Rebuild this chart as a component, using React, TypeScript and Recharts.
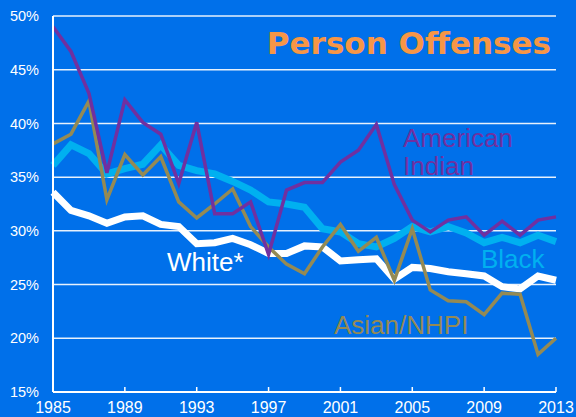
import { LineChart, Line, XAxis, YAxis, CartesianGrid } from "recharts";

const years = [
  1985, 1986, 1987, 1988, 1989, 1990, 1991, 1992, 1993, 1994, 1995, 1996, 1997, 1998, 1999,
  2000, 2001, 2002, 2003, 2004, 2005, 2006, 2007, 2008, 2009, 2010, 2011, 2012, 2013,
];

const white = [
  33.6, 31.9, 31.4, 30.7, 31.3, 31.4, 30.6, 30.4, 28.8, 28.9, 29.3, 28.7, 27.9, 27.9, 28.6,
  28.5, 27.2, 27.3, 27.4, 25.5, 26.6, 26.5, 26.2, 26.0, 25.8, 24.8, 24.6, 25.8, 25.4,
];
const black = [
  36.1, 38.0, 37.2, 35.3, 35.8, 36.2, 38.0, 36.1, 35.6, 35.3, 34.6, 33.8, 32.7, 32.5, 32.2,
  30.2, 29.9, 28.8, 28.5, 29.3, 30.4, 29.9, 30.4, 29.8, 28.9, 29.4, 28.9, 29.6, 29.0,
];
const americanIndian = [
  49.0, 46.7, 42.8, 35.4, 42.2, 40.1, 39.0, 34.4, 40.1, 31.6, 31.6, 32.7, 27.8, 33.8, 34.5,
  34.5, 36.4, 37.5, 39.9, 34.3, 31.0, 29.9, 31.0, 31.3, 29.6, 30.9, 29.6, 31.0, 31.3,
];
const asianNhpi = [
  38.1, 39.0, 42.1, 32.9, 37.1, 35.2, 36.9, 32.7, 31.2, 32.5, 33.9, 30.4, 28.5, 26.9, 26.0,
  28.5, 30.6, 28.1, 29.4, 25.4, 30.2, 24.5, 23.5, 23.4, 22.2, 24.2, 24.1, 18.5, 20.0,
];

const xTicks = [1985, 1989, 1993, 1997, 2001, 2005, 2009, 2013];
const yTicks = [15, 20, 25, 30, 35, 40, 45, 50];

const data = years.map((year, i) => ({
  year,
  white: white[i],
  black: black[i],
  americanIndian: americanIndian[i],
  asianNhpi: asianNhpi[i],
}));

const BG = "#0070EA";
const label = { fontFamily: "'Liberation Sans', Arial, sans-serif", fontSize: 26 };

export default function App() {
  return (
    <div style={{ position: "absolute", left: 0, top: 0, width: 576, height: 417, background: BG }}>
      <LineChart
        width={576}
        height={417}
        data={data}
        margin={{ top: 16, right: 20, left: 0, bottom: 0 }}
        style={{ fontFamily: "'Liberation Sans', Arial, sans-serif" }}
      >
        <CartesianGrid vertical={false} stroke="#FFFFFF" strokeOpacity={0.9} strokeWidth={1.5} />
        <XAxis
          dataKey="year"
          type="number"
          domain={[1985, 2013]}
          ticks={xTicks}
          height={25}
          axisLine={{ stroke: "#FFFFFF", strokeWidth: 2 }}
          tickLine={{ stroke: "#FFFFFF", strokeWidth: 1.5 }}
          tickSize={-5}
          tickMargin={15}
          tick={{ fill: "#FFFFFF", fontSize: 16 }}
          interval={0}
        />
        <YAxis
          domain={[15, 50]}
          ticks={yTicks}
          width={53}
          axisLine={{ stroke: "#FFFFFF", strokeWidth: 2 }}
          tickLine={false}
          tickMargin={8}
          tick={{ fill: "#FFFFFF", fontSize: 14.5 }}
          tickFormatter={(v: number) => `${v}%`}
          interval={0}
        />
        <Line dataKey="white" type="linear" stroke="#FFFFFF" strokeWidth={7} dot={false} isAnimationActive={false} />
        <Line dataKey="black" type="linear" stroke="#00B0F0" strokeWidth={7} dot={false} isAnimationActive={false} />
        <Line dataKey="asianNhpi" type="linear" stroke="#948A54" strokeWidth={3.5} dot={false} isAnimationActive={false} />
        <Line dataKey="americanIndian" type="linear" stroke="#7030A0" strokeWidth={3.5} dot={false} isAnimationActive={false} />
      </LineChart>
      <svg width={576} height={417} style={{ position: "absolute", left: 0, top: 0, pointerEvents: "none" }}>
        <text
          x={551}
          y={54}
          textAnchor="end"
          fill="#F79646"
          fontFamily="'DejaVu Sans', sans-serif"
          fontWeight="bold"
          fontSize={31}
        >
          Person Offenses
        </text>
        <text x={403} y={147} fill="#7030A0" style={label}>American</text>
        <text x={403} y={175} fill="#7030A0" style={label}>Indian</text>
        <text x={481} y={268} fill="#00B0F0" style={label}>Black</text>
        <text x={167} y={271} fill="#FFFFFF" style={label}>White*</text>
        <text x={334} y={334} fill="#948A54" style={label}>Asian/NHPI</text>
      </svg>
    </div>
  );
}
